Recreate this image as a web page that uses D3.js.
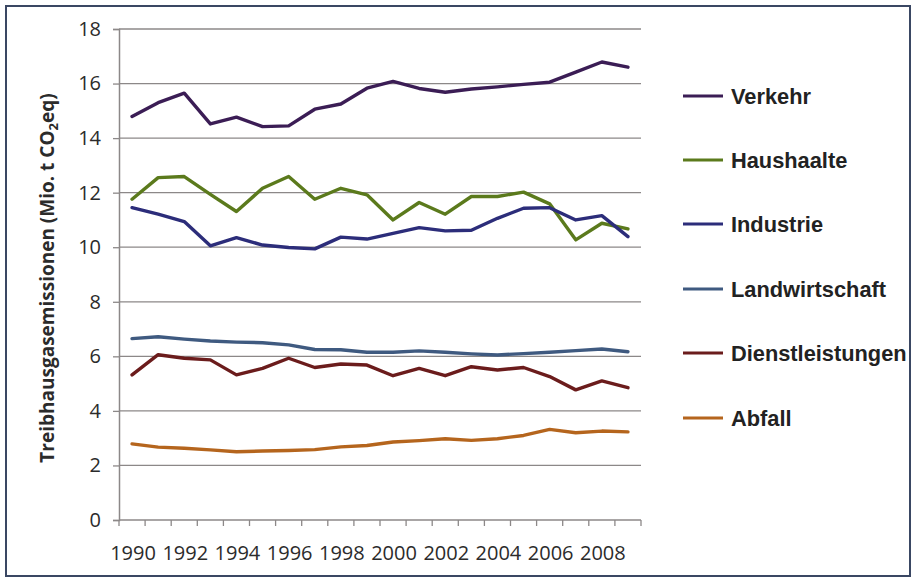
<!DOCTYPE html>
<html><head><meta charset="utf-8">
<script src="https://cdn.jsdelivr.net/npm/d3@7"></script>
<style>body{margin:0;background:#fff}svg{display:block}</style>
</head><body><svg id="c" width="915" height="580"></svg>
<script>
const years = [1990,1991,1992,1993,1994,1995,1996,1997,1998,1999,2000,2001,2002,2003,2004,2005,2006,2007,2008,2009];
const yTicks = [0,2,4,6,8,10,12,14,16,18];
const xTickLabels = [1990,1992,1994,1996,1998,2000,2002,2004,2006,2008];
const seriesNames = ["Verkehr","Haushaalte","Industrie","Landwirtschaft","Dienstleistungen","Abfall"];
const seriesColors = ["#3b1d55","#5b7a1c","#2c2d7a","#3f5a80","#6b1c1c","#b5651d"];
const verkehr = [14.79,15.3,15.65,14.52,14.77,14.42,14.45,15.06,15.25,15.83,16.08,15.82,15.68,15.8,15.88,15.97,16.05,16.42,16.79,16.6];
const haushalte = [11.76,12.55,12.59,11.94,11.31,12.16,12.59,11.76,12.16,11.92,11.0,11.64,11.21,11.86,11.86,12.02,11.59,10.27,10.88,10.67];
const industrie = [11.45,11.21,10.94,10.05,10.35,10.08,9.99,9.94,10.37,10.3,10.51,10.72,10.6,10.62,11.06,11.43,11.45,11.0,11.16,10.39];
const landwirtschaft = [6.65,6.72,6.63,6.56,6.52,6.5,6.42,6.25,6.24,6.15,6.15,6.2,6.15,6.09,6.05,6.1,6.15,6.21,6.27,6.17];
const dienstleistungen = [5.32,6.06,5.93,5.87,5.32,5.56,5.93,5.59,5.72,5.68,5.29,5.56,5.29,5.62,5.5,5.59,5.26,4.77,5.1,4.85];
const abfall = [2.79,2.67,2.63,2.57,2.5,2.53,2.55,2.58,2.68,2.73,2.86,2.91,2.98,2.92,2.98,3.1,3.32,3.2,3.26,3.23];
const seriesValues = [verkehr,haushalte,industrie,landwirtschaft,dienstleistungen,abfall];

const svg = d3.select("#c");
const L = 119, R = 641, T = 29, B = 520;

// outer border
svg.append("rect").attr("x",6).attr("y",6).attr("width",904).attr("height",570)
  .attr("fill","#fff").attr("stroke","#3a4763").attr("stroke-width",2);

const x = d3.scaleBand().domain(years).range([L,R]).paddingInner(0).paddingOuter(0);
const y = d3.scaleLinear().domain([0,18]).range([B,T]);

// gridlines
svg.append("g").selectAll("line").data(yTicks.filter(d=>d>0)).join("line")
  .attr("x1",L).attr("x2",R).attr("y1",d=>y(d)).attr("y2",d=>y(d))
  .attr("stroke","#8c8888").attr("stroke-width",1.3);

// y axis
const yAx = svg.append("g").attr("transform",`translate(${L},0)`)
  .call(d3.axisLeft(y).tickValues(yTicks).tickSize(6).tickPadding(12).tickFormat(d3.format("d")));
yAx.select(".domain").attr("stroke","#8c8888").attr("stroke-width",1.5);
yAx.selectAll(".tick line").attr("stroke","#8c8888").attr("stroke-width",1.3);
yAx.selectAll("text").attr("font-family","'Open Sans', sans-serif").attr("font-size",20).attr("fill","#2b2b2b");

// x axis
const xAx = svg.append("g").attr("transform",`translate(0,${B})`);
xAx.append("line").attr("x1",L).attr("x2",R).attr("stroke","#8c8888").attr("stroke-width",1.5);
const bounds = years.map(d=>x(d)).concat([R]);
xAx.selectAll("line.tk").data(bounds).join("line").attr("class","tk")
  .attr("x1",d=>d).attr("x2",d=>d).attr("y1",0).attr("y2",6)
  .attr("stroke","#8c8888").attr("stroke-width",1.3);
xAx.selectAll("text").data(xTickLabels).join("text")
  .attr("x",d=>x(d)+x.bandwidth()/2+1).attr("y",40)
  .attr("text-anchor","middle").attr("font-family","'Open Sans', sans-serif")
  .attr("font-size",20).attr("fill","#2b2b2b").text(d=>d);

// y title
const yt = svg.append("text").attr("transform","translate(54,278) rotate(-90)")
  .attr("text-anchor","middle").attr("font-family","'Open Sans', sans-serif")
  .attr("font-weight","bold").attr("font-size",19).attr("fill","#2b2b2b");
yt.append("tspan").text("Treibhausgasemissionen (Mio. t CO");
yt.append("tspan").attr("font-size",13).attr("dy",4).text("2");
yt.append("tspan").attr("dy",-4).text("eq)");

// lines
const line = d3.line().x((d,i)=>x(years[i])+x.bandwidth()/2).y(d=>y(d));
svg.append("g").selectAll("path").data(seriesValues).join("path")
  .attr("d",d=>line(d)).attr("fill","none")
  .attr("stroke",(d,i)=>seriesColors[i]).attr("stroke-width",3.4)
  .attr("stroke-linejoin","round").attr("stroke-linecap","round");

// legend
const legY = [96,160,224,289,353,418];
const lg = svg.append("g").selectAll("g").data(seriesNames).join("g")
  .attr("transform",(d,i)=>`translate(683,${legY[i]})`);
lg.append("line").attr("x1",0).attr("x2",40).attr("stroke",(d,i)=>seriesColors[i]).attr("stroke-width",3.2);
lg.append("text").attr("x",48).attr("y",8).attr("font-family","'Liberation Sans', Arial, sans-serif")
  .attr("font-weight","bold").attr("font-size",21.8).attr("fill","#222").text(d=>d);
</script></body></html>
